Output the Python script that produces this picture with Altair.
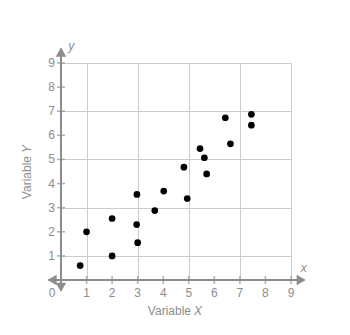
import altair as alt
import pandas as pd

xs = [0.75, 1.0, 2.0, 2.0, 2.97, 2.96, 3.0, 3.67, 4.02, 4.94, 4.81, 5.7, 5.61, 5.44, 6.63, 6.43, 7.45, 7.45]
ys = [0.6, 2.0, 1.0, 2.55, 3.55, 2.3, 1.55, 2.88, 3.69, 3.38, 4.68, 4.4, 5.07, 5.45, 5.65, 6.73, 6.87, 6.42]
ticks = [1, 2, 3, 4, 5, 6, 7, 8, 9]

GRAY = "#8c8c8c"
FONT = "Liberation Sans"

pts = pd.DataFrame({"x": xs, "y": ys})
tk = pd.DataFrame({"v": ticks, "z": [0] * len(ticks)})

xsc = alt.Scale(domain=[0, 9], nice=False)
ysc = alt.Scale(domain=[0, 9], nice=False)

base_axis = dict(grid=True, gridColor="#cccccc", gridWidth=1, labels=False, ticks=False,
                 domain=False, title=None, values=ticks)

grid = alt.Chart(pts).mark_point(opacity=0).encode(
    x=alt.X("x:Q", scale=xsc, axis=alt.Axis(**base_axis)),
    y=alt.Y("y:Q", scale=ysc, axis=alt.Axis(**base_axis)),
)

# axis lines
xline = alt.Chart(pd.DataFrame({"a": [-0.5], "b": [9.5], "z": [0]})).mark_rule(
    color=GRAY, strokeWidth=2, clip=False).encode(
    x=alt.X("a:Q", scale=xsc), x2="b:Q", y=alt.Y("z:Q", scale=ysc))
yline = alt.Chart(pd.DataFrame({"a": [-0.45], "b": [9.6], "z": [0]})).mark_rule(
    color=GRAY, strokeWidth=2, clip=False).encode(
    y=alt.Y("a:Q", scale=ysc), y2="b:Q", x=alt.X("z:Q", scale=xsc))

arrows = pd.DataFrame({
    "x": [-0.35, 9.4, 0, 0],
    "y": [0, 0, 9.45, -0.3],
    "s": ["triangle-left", "triangle-right", "triangle-up", "triangle-down"],
})
arr = alt.Chart(arrows).mark_point(filled=True, color=GRAY, opacity=1, size=110, clip=False).encode(
    x=alt.X("x:Q", scale=xsc), y=alt.Y("y:Q", scale=ysc),
    shape=alt.Shape("s:N", scale=None, legend=None))

xt = alt.Chart(tk).mark_tick(color=GRAY, thickness=1.5, size=8, orient="vertical").encode(
    x=alt.X("v:Q", scale=xsc), y=alt.Y("z:Q", scale=ysc))
yt = alt.Chart(tk).mark_tick(color=GRAY, thickness=1.5, size=8, orient="horizontal").encode(
    y=alt.Y("v:Q", scale=ysc), x=alt.X("z:Q", scale=xsc))

xl = alt.Chart(tk).mark_text(color=GRAY, font=FONT, fontSize=12, dy=13, baseline="middle").encode(
    x=alt.X("v:Q", scale=xsc), y=alt.Y("z:Q", scale=ysc), text="v:N")
yl = alt.Chart(tk).mark_text(color=GRAY, font=FONT, fontSize=12, dx=-6, align="right", baseline="middle").encode(
    y=alt.Y("v:Q", scale=ysc), x=alt.X("z:Q", scale=xsc), text="v:N")
zero = alt.Chart(pd.DataFrame({"z": [0], "t": ["0"]})).mark_text(
    color=GRAY, font=FONT, fontSize=12, dx=-9, dy=13, baseline="middle").encode(
    x=alt.X("z:Q", scale=xsc), y=alt.Y("z:Q", scale=ysc), text="t:N")

dots = alt.Chart(pts).mark_circle(color="black", opacity=1, size=45).encode(
    x=alt.X("x:Q", scale=xsc), y=alt.Y("y:Q", scale=ysc))

lbls = pd.DataFrame({"t": ["x", "y"], "x": [9.5, 0.4], "y": [0.48, 9.7]})
axl = alt.Chart(lbls).mark_text(color=GRAY, font=FONT, fontSize=12, fontStyle="italic",
                                  baseline="middle", clip=False).encode(
    x=alt.X("x:Q", scale=xsc), y=alt.Y("y:Q", scale=ysc), text="t:N")

tx1 = alt.Chart(pd.DataFrame({"t": ["Variable"]})).mark_text(
    color=GRAY, font=FONT, fontSize=12, align="right", baseline="middle").encode(
    x=alt.value(130), y=alt.value(248), text="t:N")
tx2 = alt.Chart(pd.DataFrame({"t": ["X"]})).mark_text(
    color=GRAY, font=FONT, fontSize=12, fontStyle="italic", align="left", baseline="middle").encode(
    x=alt.value(133), y=alt.value(248), text="t:N")
ty1 = alt.Chart(pd.DataFrame({"t": ["Variable"]})).mark_text(
    color=GRAY, font=FONT, fontSize=12, angle=270, align="right", baseline="middle").encode(
    x=alt.value(-34), y=alt.value(93), text="t:N")
ty2 = alt.Chart(pd.DataFrame({"t": ["Y"]})).mark_text(
    color=GRAY, font=FONT, fontSize=12, fontStyle="italic", angle=270, align="left", baseline="middle").encode(
    x=alt.value(-34), y=alt.value(90), text="t:N")

chart = alt.layer(grid, xline, yline, xt, yt, arr, xl, yl, zero, dots, axl, tx1, tx2, ty1, ty2).properties(
    width=230, height=217,
    autosize=alt.AutoSizeParams(type="none"),
    padding={"left": 61, "top": 63, "right": 59, "bottom": 55},
).configure_view(stroke=None).configure(background="white")

chart.save("out.html", embed_options={"renderer": "svg", "actions": False})
